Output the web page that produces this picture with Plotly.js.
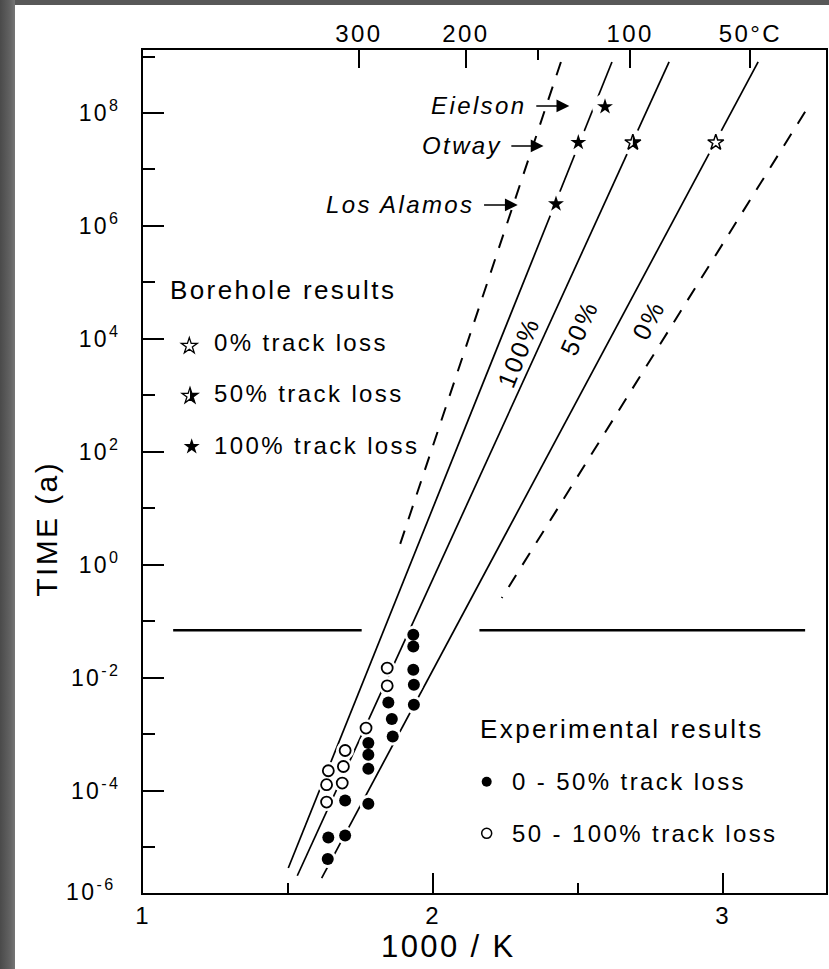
<!DOCTYPE html>
<html><head><meta charset="utf-8">
<script src="https://cdn.plot.ly/plotly-3.0.1.min.js"></script>
<style>
html,body{margin:0;padding:0;width:829px;height:969px;overflow:hidden;
background:linear-gradient(to right,#4a4a4a 0px,#626262 10px,#767676 15px,#585858 15px);}
#chart{position:absolute;left:15px;top:5px;width:814px;height:964px;background:white;}
text{letter-spacing:2.4px;}
</style></head><body><div id="chart"></div>
<script>
// ---------- Experimental results (1000/K, time in years) ----------
const expFilledX = [1.932,1.932,1.932,1.934,1.934,1.846,1.858,1.861,1.777,1.777,1.777,1.777,1.697,1.697,1.639,1.637];
const expFilledT = [0.0577,0.0358,0.01387,0.00752,0.00333,0.00366,0.00186,0.000914,0.000698,0.000434,0.000245,0.0000589,0.0000673,0.0000162,0.0000149,0.00000618];
const expOpenX = [1.842,1.842,1.769,1.697,1.691,1.639,1.633,1.687,1.633];
const expOpenT = [0.01486,0.00721,0.00129,0.000516,0.000269,0.000226,0.000128,0.000137,0.0000631];

// ---------- Borehole results ----------
const boreSites = ['Eielson','Otway','Otway','Otway','Los Alamos'];
const boreX = [2.593,2.501,2.689,2.975,2.424];
const boreT = [1.29e8,3.0e7,3.0e7,3.0e7,2.45e6];
const boreLoss = [100,100,50,0,100];

// ---------- Fitted / extrapolated lines (end points) ----------
const lineNames = ['bound (left)','100%','50%','0%','bound (right)'];
const lineX = [[2.441,1.880],[2.617,1.501],[2.814,1.532],[3.121,1.616],[3.283,2.237]];
const lineT = [[8.0e8,1.84],[8.0e8,4.29e-6],[8.0e8,3.13e-6],[8.0e8,2.85e-6],[1.05e8,0.258]];
const lineDashed = [true,false,false,false,true];

// horizontal divider (laboratory / geological time)
const dividerT = 0.0693;
const dividerX = [[1.104,1.754],[2.160,3.283]];

// ---------- axis ticks ----------
const bottomTicks = [1,2,3];
const bottomMinor = [1.5,2.5];
const tempC = [300,200,100,50];
const tempLabels = ['300','200','100','50°C'];
const tempMinorC = [150];
const timeExp = [-4,-2,0,2,4,6,8];
const timeMinorExp = [-5,-3,-1,1,3,5,7,9];
const cornerExp = -6;

const invK = c => 1000/(c+273.15);
const powLabel = e => '10<sup>' + (e<0 ? '-' + (-e) : e) + '</sup>';
const FONT = 'Liberation Sans, Arial, Helvetica, sans-serif';

const data = [];
lineNames.forEach((nm,i)=>{
  data.push({type:'scatter',mode:'lines',name:nm,x:lineX[i],y:lineT[i],hoverinfo:'skip',
    line:{color:'black',width:lineDashed[i]?2:1.7,dash:lineDashed[i]?'14px,12px':'solid'}});
});
data.push({type:'scatter',mode:'lines',xaxis:'x2',yaxis:'y',hoverinfo:'skip',
  x:[dividerX[0][0],dividerX[0][1],null,dividerX[1][0],dividerX[1][1]],
  y:[dividerT,dividerT,null,dividerT,dividerT],connectgaps:false,
  line:{color:'black',width:2.6}});
// white halos so lines break around symbols
data.push({type:'scatter',mode:'markers',hoverinfo:'skip',x:expFilledX.concat(expOpenX),y:expFilledT.concat(expOpenT),
  marker:{size:18,color:'white',line:{width:0}}});
data.push({type:'scatter',mode:'markers',hoverinfo:'skip',x:boreX,y:boreT,
  marker:{size:26,color:'white',line:{width:0}}});
// experimental points
data.push({type:'scatter',mode:'markers',name:'0 - 50% track loss',x:expFilledX,y:expFilledT,
  marker:{symbol:'circle',size:12,color:'black',line:{width:0}}});
data.push({type:'scatter',mode:'markers',name:'50 - 100% track loss',x:expOpenX,y:expOpenT,
  marker:{symbol:'circle',size:11,color:'white',line:{color:'black',width:1.8}}});
// borehole stars
const pick = v => boreLoss.map((l,i)=>l===v?i:-1).filter(i=>i>=0);
[[100,'star'],[50,'star-open'],[0,'star-open']].forEach(([v,sym])=>{
  const ids = pick(v);
  data.push({type:'scatter',mode:'markers',name:v+'% track loss',
    x:ids.map(i=>boreX[i]),y:ids.map(i=>boreT[i]),
    marker:{symbol:sym,size:12,color:'black',line:{color:'black',width:sym==='star'?0:1.5}}});
});

// star geometry (same as plotly 'star' marker), y up for pixel-sized shapes
function starPts(S){
  const rs = 0.7*S;
  return [[0,-rs],[0.225*rs,-0.309*rs],[0.951*rs,-0.309*rs],[0.363*rs,0.118*rs],[0.588*rs,0.809*rs],
          [0,0.382*rs],[-0.588*rs,0.809*rs],[-0.363*rs,0.118*rs],[-0.951*rs,-0.309*rs],[-0.225*rs,-0.309*rs]];
}
function pathOf(pts){return 'M'+pts.map(p=>p[0].toFixed(2)+','+(-p[1]).toFixed(2)).join('L')+'Z';}
const fullStar = pathOf(starPts(12));
const halfStar = pathOf(starPts(12).slice(0,6));

const shapes = [];
pick(50).forEach(i=>{
  shapes.push({type:'path',xref:'x',yref:'y',xsizemode:'pixel',ysizemode:'pixel',
    xanchor:boreX[i],yanchor:boreT[i],path:halfStar,fillcolor:'black',line:{width:0}});
});
// legend symbols
function pStar(xa,ya,fill,lw){shapes.push({type:'path',xref:'paper',yref:'paper',xsizemode:'pixel',ysizemode:'pixel',
  xanchor:xa,yanchor:ya,path:fullStar,fillcolor:fill,line:{color:'black',width:lw}});}
pStar(0.0678,0.6489,'white',1.3);
pStar(0.0688,0.5896,'white',1.3);
shapes.push({type:'path',xref:'paper',yref:'paper',xsizemode:'pixel',ysizemode:'pixel',
  xanchor:0.0688,yanchor:0.5896,path:halfStar,fillcolor:'black',line:{width:0}});
pStar(0.0713,0.5294,'black',0);
shapes.push({type:'circle',xref:'paper',yref:'paper',xsizemode:'pixel',ysizemode:'pixel',
  xanchor:0.5032,yanchor:0.1320,x0:-5,x1:5,y0:-5,y1:5,fillcolor:'black',line:{width:0}});
shapes.push({type:'circle',xref:'paper',yref:'paper',xsizemode:'pixel',ysizemode:'pixel',
  xanchor:0.5032,yanchor:0.0708,x0:-5,x1:5,y0:-5,y1:5,fillcolor:'white',line:{color:'black',width:1.5}});

const ann = [];
// site labels with arrows (text sits at the arrow tail)
[['Eielson',2.470,2.356,8.124],
 ['Otway',2.381,2.270,7.416],
 ['Los Alamos',2.292,2.176,6.372]].forEach(([t,hx,tlx,ay])=>{
  ann.push({text:'<i>'+t+'</i>',x:hx,y:ay,ax:tlx,ay:ay,xref:'x',yref:'y',axref:'x',ayref:'y',
    xanchor:'right',yanchor:'middle',showarrow:true,borderpad:8,
    arrowhead:2,arrowsize:1.6,arrowwidth:1.6,arrowcolor:'black',standoff:0,startstandoff:0,
    font:{size:24,family:FONT,color:'black'}});
});
// line labels
[['100%',2.294,3.775,-68],['50%',2.504,4.189,-65.5],['0%',2.742,4.336,-62]].forEach(([t,x,y,a])=>{
  ann.push({text:t,x:x,y:y,xref:'x',yref:'y',textangle:a,showarrow:false,font:{size:25,family:FONT,color:'black'}});
});
// legends
const P = (t,x,y,s,extra) => Object.assign({text:t,x:x,y:y,xref:'paper',yref:'paper',xanchor:'left',yanchor:'middle',
  showarrow:false,font:{size:s,family:FONT,color:'black'}},extra||{});
ann.push(P('Borehole results',0.0366,0.7153,26));
[['0% track loss',0.6536],['50% track loss',0.5931],['100% track loss',0.5314]].forEach(([t,y])=>ann.push(P(t,0.1010,y,24)));
ann.push(P('Experimental results',0.4905,0.1945,26));
[['0 - 50% track loss',0.1320],['50 - 100% track loss',0.0711]].forEach(([t,y])=>ann.push(P(t,0.5373,y,24)));
// corner label of the time axis
ann.push(P(powLabel(cornerExp),-0.037,0.004,23,{xanchor:'right'}));
// axis titles
ann.push(P('TIME (a)',-0.1406,0.432,30,{xanchor:'center',textangle:-90}));
ann.push(P('1000 / K',0.4466,-0.0629,31,{xanchor:'center'}));

const tickFont = s => ({size:s,family:FONT,color:'black'});
const layout = {
  width:814,height:964,
  margin:{l:128,r:3,t:45,b:76},
  paper_bgcolor:'white',plot_bgcolor:'white',
  showlegend:false,
  font:{family:FONT,color:'black',size:24},
  xaxis:{range:[1,3.355],tickmode:'array',tickvals:bottomTicks,ticktext:bottomTicks.map(String),
    ticks:'inside',ticklen:20,tickwidth:2,tickcolor:'black',
    showline:true,linewidth:2,linecolor:'black',mirror:true,showgrid:false,zeroline:false,
    tickfont:tickFont(24),ticklabelstandoff:0,
    minor:{tickmode:'array',tickvals:bottomMinor,ticks:'inside',ticklen:10,tickwidth:2,tickcolor:'black'}},
  xaxis2:{overlaying:'x',anchor:'y',side:'top',range:[1,3.355],tickmode:'array',
    tickvals:tempC.map(invK),ticktext:tempLabels,ticks:'inside',ticklen:18,tickwidth:2,tickcolor:'black',
    showline:false,showgrid:false,zeroline:false,tickfont:tickFont(24),ticklabelstandoff:2,
    minor:{tickmode:'array',tickvals:tempMinorC.map(invK),ticks:'inside',ticklen:10,tickwidth:2,tickcolor:'black'}},
  yaxis:{type:'log',range:[-5.81,9.115],tickmode:'array',
    tickvals:timeExp.map(e=>Math.pow(10,e)),ticktext:timeExp.map(powLabel),
    ticks:'inside',ticklen:21,tickwidth:2,tickcolor:'black',
    showline:true,linewidth:2,linecolor:'black',mirror:true,showgrid:false,zeroline:false,
    tickfont:tickFont(23),ticklabelstandoff:16,
    minor:{tickmode:'array',tickvals:timeMinorExp.map(e=>Math.pow(10,e)),ticks:'inside',ticklen:12,tickwidth:2,tickcolor:'black'}},
  shapes:shapes,
  annotations:ann
};
Plotly.newPlot('chart',data,layout,{staticPlot:true,displayModeBar:false});
</script></body></html>
